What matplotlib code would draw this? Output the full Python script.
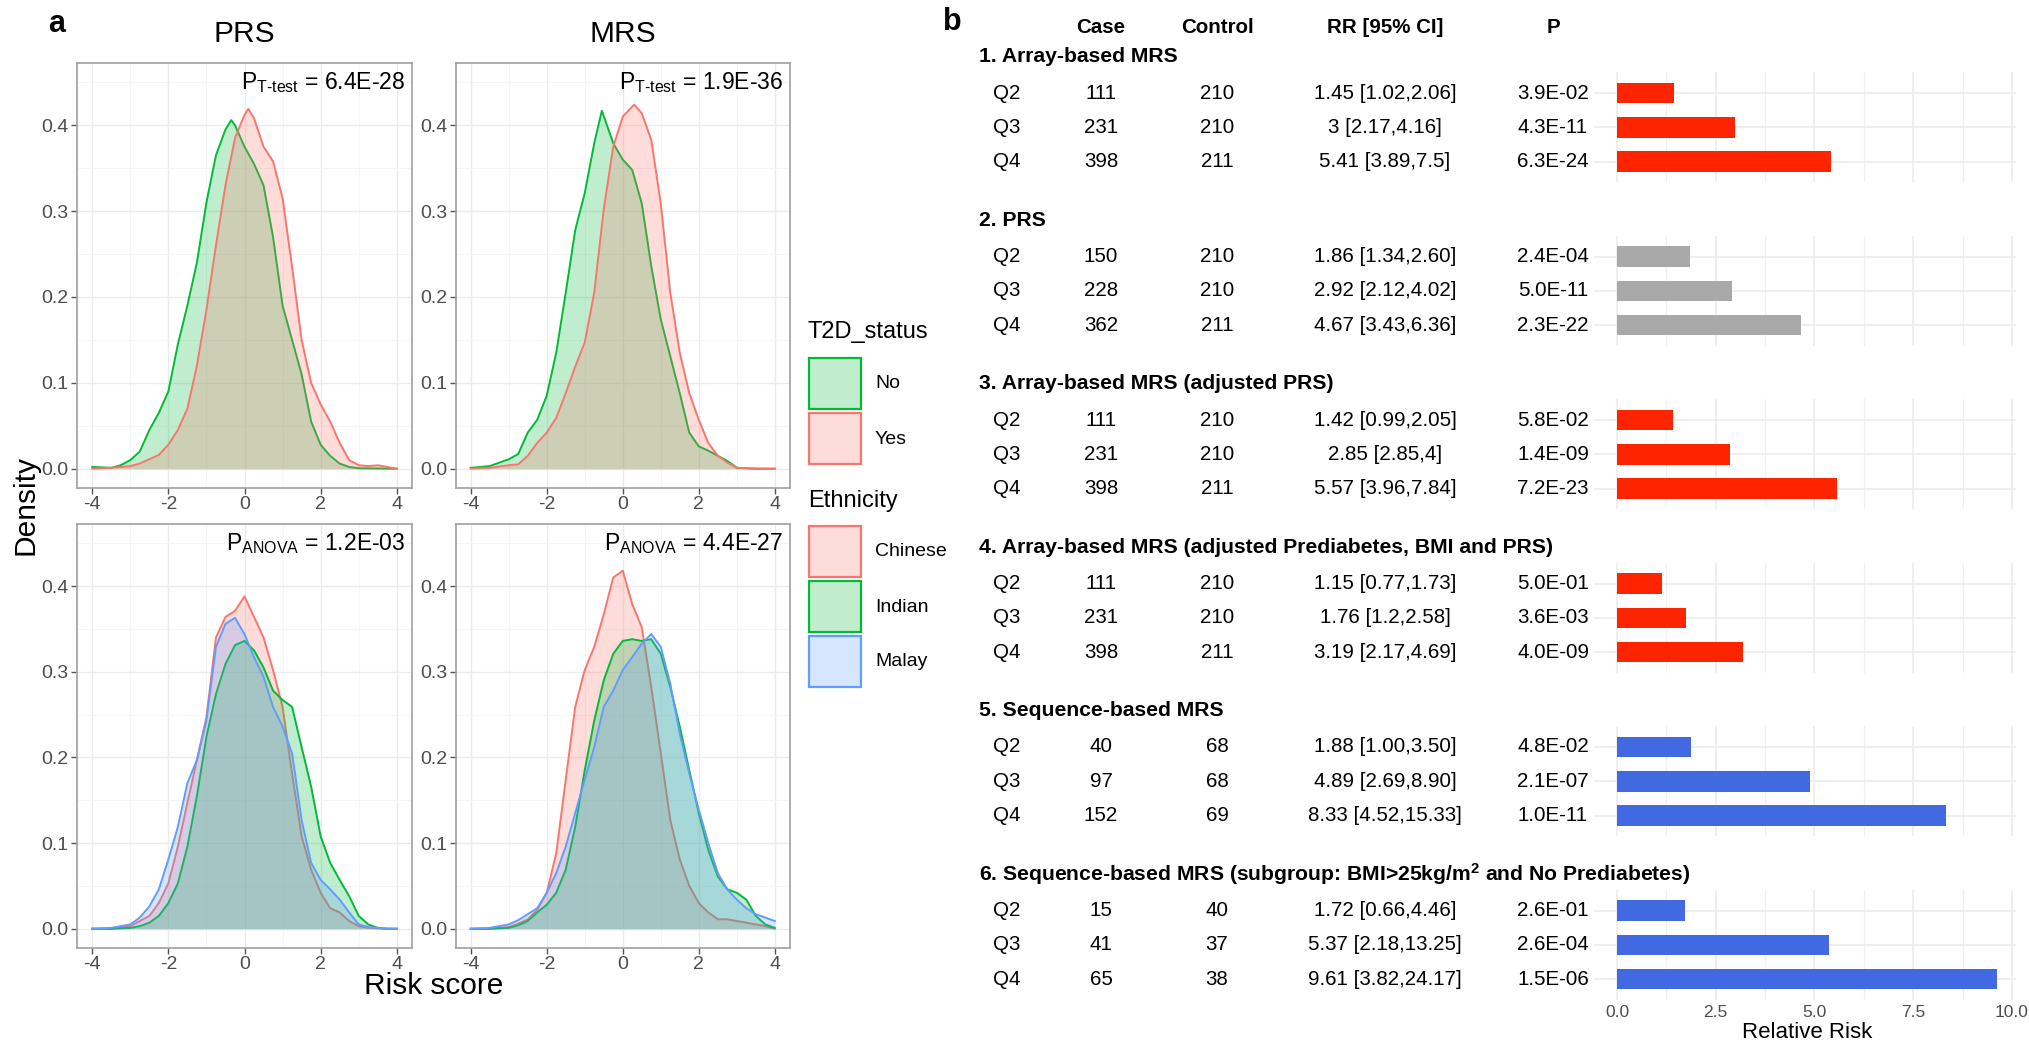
import matplotlib
matplotlib.use("Agg")
import matplotlib.pyplot as plt
from matplotlib.patches import Rectangle
from matplotlib.transforms import blended_transform_factory

plt.rcParams['font.family'] = ['Liberation Sans', 'DejaVu Sans']
plt.rcParams['mathtext.fontset'] = 'custom'
plt.rcParams['mathtext.rm'] = 'Liberation Sans'
plt.rcParams['mathtext.it'] = 'Liberation Sans:italic'
plt.rcParams['mathtext.bf'] = 'Liberation Sans:bold'

# ---------------- data: panel a (density curves) ----------------
# PRS by T2D status
prs_no_x = [-4, -3.5, -3.25, -3, -2.75, -2.5, -2.25, -2, -1.75, -1.5, -1.25, -1, -0.75, -0.5, -0.35, -0.25, 0, 0.25, 0.5, 0.75, 1, 1.25, 1.5, 1.75, 2, 2.25, 2.5, 2.75, 3, 4]
prs_no_y = [0.002, 0.001, 0.004, 0.010, 0.020, 0.045, 0.065, 0.090, 0.145, 0.190, 0.240, 0.310, 0.365, 0.395, 0.406, 0.400, 0.375, 0.355, 0.330, 0.270, 0.190, 0.150, 0.110, 0.055, 0.028, 0.015, 0.006, 0.002, 0.0005, 0.0]
prs_yes_x = [-4, -3.5, -3, -2.75, -2.5, -2.25, -2, -1.75, -1.5, -1.25, -1, -0.75, -0.5, -0.25, 0, 0.1, 0.25, 0.5, 0.75, 1, 1.25, 1.5, 1.75, 2, 2.25, 2.5, 2.75, 3, 3.25, 3.5, 3.75, 4]
prs_yes_y = [0.0, 0.001, 0.003, 0.006, 0.011, 0.016, 0.028, 0.045, 0.070, 0.120, 0.185, 0.260, 0.330, 0.385, 0.412, 0.419, 0.408, 0.375, 0.358, 0.315, 0.235, 0.150, 0.100, 0.075, 0.055, 0.030, 0.010, 0.004, 0.003, 0.004, 0.002, 0.0]

# MRS by T2D status
mrs_no_x = [-4, -3.5, -3.25, -3, -2.75, -2.5, -2.25, -2, -1.75, -1.5, -1.25, -1, -0.75, -0.55, -0.25, 0, 0.25, 0.5, 0.75, 1, 1.25, 1.5, 1.75, 2, 2.25, 2.5, 2.75, 3, 3.5, 4]
mrs_no_y = [0.001, 0.003, 0.007, 0.011, 0.017, 0.042, 0.057, 0.085, 0.135, 0.205, 0.278, 0.321, 0.379, 0.417, 0.379, 0.360, 0.348, 0.309, 0.236, 0.174, 0.131, 0.088, 0.042, 0.026, 0.021, 0.015, 0.009, 0.001, 0.0, 0.0]
mrs_yes_x = [-4, -3.5, -3, -2.75, -2.5, -2.25, -2, -1.75, -1.5, -1.25, -1, -0.75, -0.5, -0.25, 0, 0.3, 0.5, 0.75, 1, 1.25, 1.5, 1.75, 2, 2.25, 2.5, 2.75, 3, 3.5, 4]
mrs_yes_y = [0.0, 0.001, 0.004, 0.005, 0.015, 0.030, 0.042, 0.059, 0.088, 0.119, 0.147, 0.205, 0.302, 0.375, 0.410, 0.424, 0.414, 0.383, 0.309, 0.205, 0.135, 0.088, 0.057, 0.030, 0.015, 0.007, 0.001, 0.0, 0.0]

# PRS by ethnicity
grid_x = [-4, -3.5, -3, -2.75, -2.5, -2.25, -2, -1.75, -1.5, -1.25, -1, -0.75, -0.5, -0.25, 0, 0.25, 0.5, 0.75, 1, 1.25, 1.5, 1.75, 2, 2.25, 2.5, 2.75, 3, 3.25, 3.5, 3.75, 4]
prs_chinese = [0.0, 0.0, 0.003, 0.009, 0.015, 0.030, 0.053, 0.096, 0.147, 0.197, 0.247, 0.340, 0.364, 0.371, 0.388, 0.364, 0.340, 0.302, 0.259, 0.181, 0.108, 0.069, 0.042, 0.024, 0.019, 0.009, 0.003, 0.001, 0.0005, 0.0, 0.0]
prs_indian = [0.0, 0.0, 0.001, 0.003, 0.007, 0.015, 0.030, 0.053, 0.096, 0.155, 0.224, 0.274, 0.309, 0.331, 0.336, 0.325, 0.305, 0.278, 0.267, 0.259, 0.212, 0.166, 0.108, 0.077, 0.057, 0.038, 0.015, 0.005, 0.001, 0.0, 0.0]
prs_malay = [0.0, 0.001, 0.005, 0.013, 0.026, 0.046, 0.081, 0.119, 0.170, 0.197, 0.243, 0.329, 0.356, 0.363, 0.344, 0.317, 0.294, 0.259, 0.236, 0.205, 0.127, 0.077, 0.057, 0.046, 0.034, 0.019, 0.005, 0.002, 0.001, 0.0, 0.0]

# MRS by ethnicity
mrs_chinese = [0.0, 0.0, 0.002, 0.006, 0.011, 0.022, 0.042, 0.088, 0.174, 0.259, 0.302, 0.329, 0.367, 0.410, 0.418, 0.379, 0.352, 0.282, 0.205, 0.127, 0.081, 0.050, 0.030, 0.019, 0.011, 0.011, 0.009, 0.007, 0.005, 0.003, 0.0]
mrs_indian = [0.0, 0.0, 0.001, 0.004, 0.009, 0.019, 0.028, 0.042, 0.069, 0.119, 0.185, 0.243, 0.290, 0.321, 0.336, 0.338, 0.336, 0.338, 0.321, 0.282, 0.236, 0.185, 0.135, 0.092, 0.061, 0.046, 0.042, 0.034, 0.015, 0.005, 0.001]
mrs_malay = [0.0, 0.001, 0.005, 0.010, 0.017, 0.024, 0.042, 0.065, 0.096, 0.135, 0.174, 0.212, 0.259, 0.278, 0.302, 0.317, 0.333, 0.344, 0.329, 0.286, 0.228, 0.181, 0.139, 0.100, 0.065, 0.046, 0.034, 0.024, 0.017, 0.013, 0.009]

p_labels = ["6.4E-28", "1.9E-36", "1.2E-03", "4.4E-27"]
col_titles = ["PRS", "MRS"]
t2d_levels = ["No", "Yes"]
eth_levels = ["Chinese", "Indian", "Malay"]

# ---------------- data: panel b ----------------
group_titles = ["1. Array-based MRS", "2. PRS", "3. Array-based MRS (adjusted PRS)",
                "4. Array-based MRS (adjusted Prediabetes, BMI and PRS)", "5. Sequence-based MRS",
                "6. Sequence-based MRS (subgroup: BMI>25kg/m$^{\\mathbf{2}}$ and No Prediabetes)"]
quartiles = ["Q2", "Q3", "Q4"]
cases = [[111, 231, 398], [150, 228, 362], [111, 231, 398], [111, 231, 398], [40, 97, 152], [15, 41, 65]]
controls = [[210, 210, 211], [210, 210, 211], [210, 210, 211], [210, 210, 211], [68, 68, 69], [40, 37, 38]]
rr = [[1.45, 3, 5.41], [1.86, 2.92, 4.67], [1.42, 2.85, 5.57], [1.15, 1.76, 3.19], [1.88, 4.89, 8.33], [1.72, 5.37, 9.61]]
rr_ci = [["1.45 [1.02,2.06]", "3 [2.17,4.16]", "5.41 [3.89,7.5]"],
         ["1.86 [1.34,2.60]", "2.92 [2.12,4.02]", "4.67 [3.43,6.36]"],
         ["1.42 [0.99,2.05]", "2.85 [2.85,4]", "5.57 [3.96,7.84]"],
         ["1.15 [0.77,1.73]", "1.76 [1.2,2.58]", "3.19 [2.17,4.69]"],
         ["1.88 [1.00,3.50]", "4.89 [2.69,8.90]", "8.33 [4.52,15.33]"],
         ["1.72 [0.66,4.46]", "5.37 [2.18,13.25]", "9.61 [3.82,24.17]"]]
pvals = [["3.9E-02", "4.3E-11", "6.3E-24"], ["2.4E-04", "5.0E-11", "2.3E-22"],
         ["5.8E-02", "1.4E-09", "7.2E-23"], ["5.0E-01", "3.6E-03", "4.0E-09"],
         ["4.8E-02", "2.1E-07", "1.0E-11"], ["2.6E-01", "2.6E-04", "1.5E-06"]]
bar_colors = ["#FF2400", "#A9A9A9", "#FF2400", "#FF2400", "#4169E1", "#4169E1"]

# ---------------- figure ----------------
W, H = 2029, 1045
fig = plt.figure(figsize=(W / 100, H / 100), dpi=100)

def px_axes(x0, y0, x1, y1):
    return fig.add_axes([x0 / W, 1 - y1 / H, (x1 - x0) / W, (y1 - y0) / H])

C_RED, C_GREEN, C_BLUE = "#F8766D", "#00BA38", "#619CFF"
ALPHA = 0.25
GRID = "#EBEBEB"
TICKC = "#4D4D4D"

def style_density(ax):
    ax.set_xlim(-4.4, 4.4)
    ax.set_ylim(-0.0225, 0.4725)
    ax.set_xticks([-4, -2, 0, 2, 4])
    ax.set_xticklabels(["-4", "-2", "0", "2", "4"])
    ax.set_xticks([-3, -1, 1, 3], minor=True)
    ax.set_yticks([0, 0.1, 0.2, 0.3, 0.4])
    ax.set_yticklabels(["0.0", "0.1", "0.2", "0.3", "0.4"])
    ax.set_yticks([0.05, 0.15, 0.25, 0.35, 0.45], minor=True)
    ax.grid(True, which="major", color=GRID, lw=1.0, zorder=0)
    ax.grid(True, which="minor", color="#F4F4F4", lw=0.6, zorder=0)
    ax.set_axisbelow(True)
    ax.tick_params(which="major", length=4, width=1, color="#555555", labelsize=14,
                   labelcolor=TICKC, pad=2)
    ax.tick_params(which="minor", length=0)
    for s in ax.spines.values():
        s.set_color("#A0A0A0")
        s.set_linewidth(1.2)

def draw_dens(ax, xs, ys, color):
    ax.fill_between(xs, 0, ys, color=color, alpha=ALPHA, lw=0, zorder=2)
    ax.plot(xs, ys, color=color, lw=1.4, zorder=2)

def ann(ax, label, sub):
    ax.text(4.22, 0.442, r"$\mathregular{P_{%s}}$ = %s" % (sub, label), ha="right", va="baseline",
            fontsize=16.5, color="black", zorder=5)

boxes = [(77, 63, 412, 488), (455.5, 63, 790, 488), (77, 524, 412, 948), (455.5, 524, 790, 948)]
axs = [px_axes(*b) for b in boxes]
for ax in axs:
    style_density(ax)

draw_dens(axs[0], prs_no_x, prs_no_y, C_GREEN)
draw_dens(axs[0], prs_yes_x, prs_yes_y, C_RED)
draw_dens(axs[1], mrs_no_x, mrs_no_y, C_GREEN)
draw_dens(axs[1], mrs_yes_x, mrs_yes_y, C_RED)
for ax, series in zip(axs[2:], [(prs_chinese, prs_indian, prs_malay), (mrs_chinese, mrs_indian, mrs_malay)]):
    for ys, c in zip(series, [C_RED, C_GREEN, C_BLUE]):
        draw_dens(ax, grid_x, ys, c)

ann(axs[0], p_labels[0], r"T\text{-}test")
ann(axs[1], p_labels[1], r"T\text{-}test")
ann(axs[2], p_labels[2], "ANOVA")
ann(axs[3], p_labels[3], "ANOVA")

# overlay axes in pixel coordinates for free text / legend
ov = fig.add_axes([0, 0, 1, 1])
ov.set_xlim(0, W)
ov.set_ylim(H, 0)
ov.axis("off")
ov.patch.set_alpha(0)

ov.text(57, 24, "a", fontsize=22, fontweight="bold", ha="center", va="center")
ov.text(952, 22, "b", fontsize=22, fontweight="bold", ha="center", va="center")
ov.text(244.5, 34, col_titles[0], fontsize=21.5, ha="center", va="center")
ov.text(623, 34, col_titles[1], fontsize=21.5, ha="center", va="center")
ov.text(25, 505, "Density", fontsize=21.5, rotation=90, ha="center", va="center")
ov.text(434, 986, "Risk score", fontsize=21.5, ha="center", va="center")

# legends
def legend_block(title, ty, labels, colors, y0):
    ov.text(808, ty, title, fontsize=17, ha="left", va="center")
    for i, (lab, c) in enumerate(zip(labels, colors)):
        top = y0 + i * 55
        ov.add_patch(Rectangle((809, top + 1), 52, 51, facecolor=c, alpha=ALPHA, lw=0))
        ov.add_patch(Rectangle((809, top + 1), 52, 51, facecolor="none", edgecolor=c, lw=1.6))
        ov.text(875, top + 27, lab, fontsize=14, ha="left", va="center")

legend_block("T2D_status", 332, t2d_levels, [C_GREEN, C_RED], 357)
legend_block("Ethnicity", 501, eth_levels, [C_RED, C_GREEN, C_BLUE], 525)

# ---------------- panel b ----------------
ROW = 34.3
Q2_POS = [93 + 163.5 * k for k in range(6)]
BX0, BX1 = 1598, 2015.5
col_x = {"q": 993, "case": 1101, "ctrl": 1217, "rr": 1385, "p": 1553, "head": 979}
rows = [0, 1, 2]
FS = 14.8
for g in range(6):
    top = Q2_POS[g] - 0.6 * ROW
    bot = Q2_POS[g] + 2.6 * ROW
    ax = px_axes(BX0, top, BX1, bot)
    ax.barh(rows, rr[g], height=0.6, color=bar_colors[g], zorder=3)
    ax.set_ylim(2.6, -0.6)
    ax.set_xlim(-0.48, 10.09)
    ax.set_xticks([0, 2.5, 5, 7.5, 10])
    ax.set_xticks([1.25, 3.75, 6.25, 8.75], minor=True)
    ax.set_yticks(rows)
    ax.set_yticklabels([])
    ax.grid(True, which="major", color=GRID, lw=1.1, zorder=0)
    ax.grid(True, which="minor", axis="x", color="#F0F0F0", lw=0.9, zorder=0)
    ax.set_axisbelow(True)
    for s in ax.spines.values():
        s.set_visible(False)
    ax.tick_params(axis="y", length=3, color=GRID, width=1.1)
    ax.tick_params(axis="x", which="both", length=0)
    if g == 5:
        ax.set_xticklabels(["0.0", "2.5", "5.0", "7.5", "10.0"])
        ax.tick_params(axis="x", labelsize=12.5, labelcolor=TICKC, pad=4)
        ax.set_xlabel("Relative Risk", fontsize=16, labelpad=1)
    else:
        ax.set_xticklabels([])

    tr = blended_transform_factory(fig.transFigure, ax.transData)
    ax.text(col_x["head"] / W, -1.05, group_titles[g], transform=tr, fontsize=15.2,
            fontweight="bold", ha="left", va="center", clip_on=False)
    if g == 0:
        for key, lab in [("case", "Case"), ("ctrl", "Control"), ("rr", "RR [95% CI]"), ("p", "P")]:
            ax.text(col_x[key] / W, -1.9, lab, transform=tr, fontsize=FS, fontweight="bold",
                    ha="center", va="center", clip_on=False)
    for i in rows:
        ax.text(col_x["q"] / W, i, quartiles[i], transform=tr, fontsize=FS, ha="left", va="center", clip_on=False)
        ax.text(col_x["case"] / W, i, str(cases[g][i]), transform=tr, fontsize=FS, ha="center", va="center", clip_on=False)
        ax.text(col_x["ctrl"] / W, i, str(controls[g][i]), transform=tr, fontsize=FS, ha="center", va="center", clip_on=False)
        ax.text(col_x["rr"] / W, i, rr_ci[g][i], transform=tr, fontsize=FS, ha="center", va="center", clip_on=False)
        ax.text(col_x["p"] / W, i, pvals[g][i], transform=tr, fontsize=FS, ha="center", va="center", clip_on=False)

fig.savefig("out.png", dpi=100)
